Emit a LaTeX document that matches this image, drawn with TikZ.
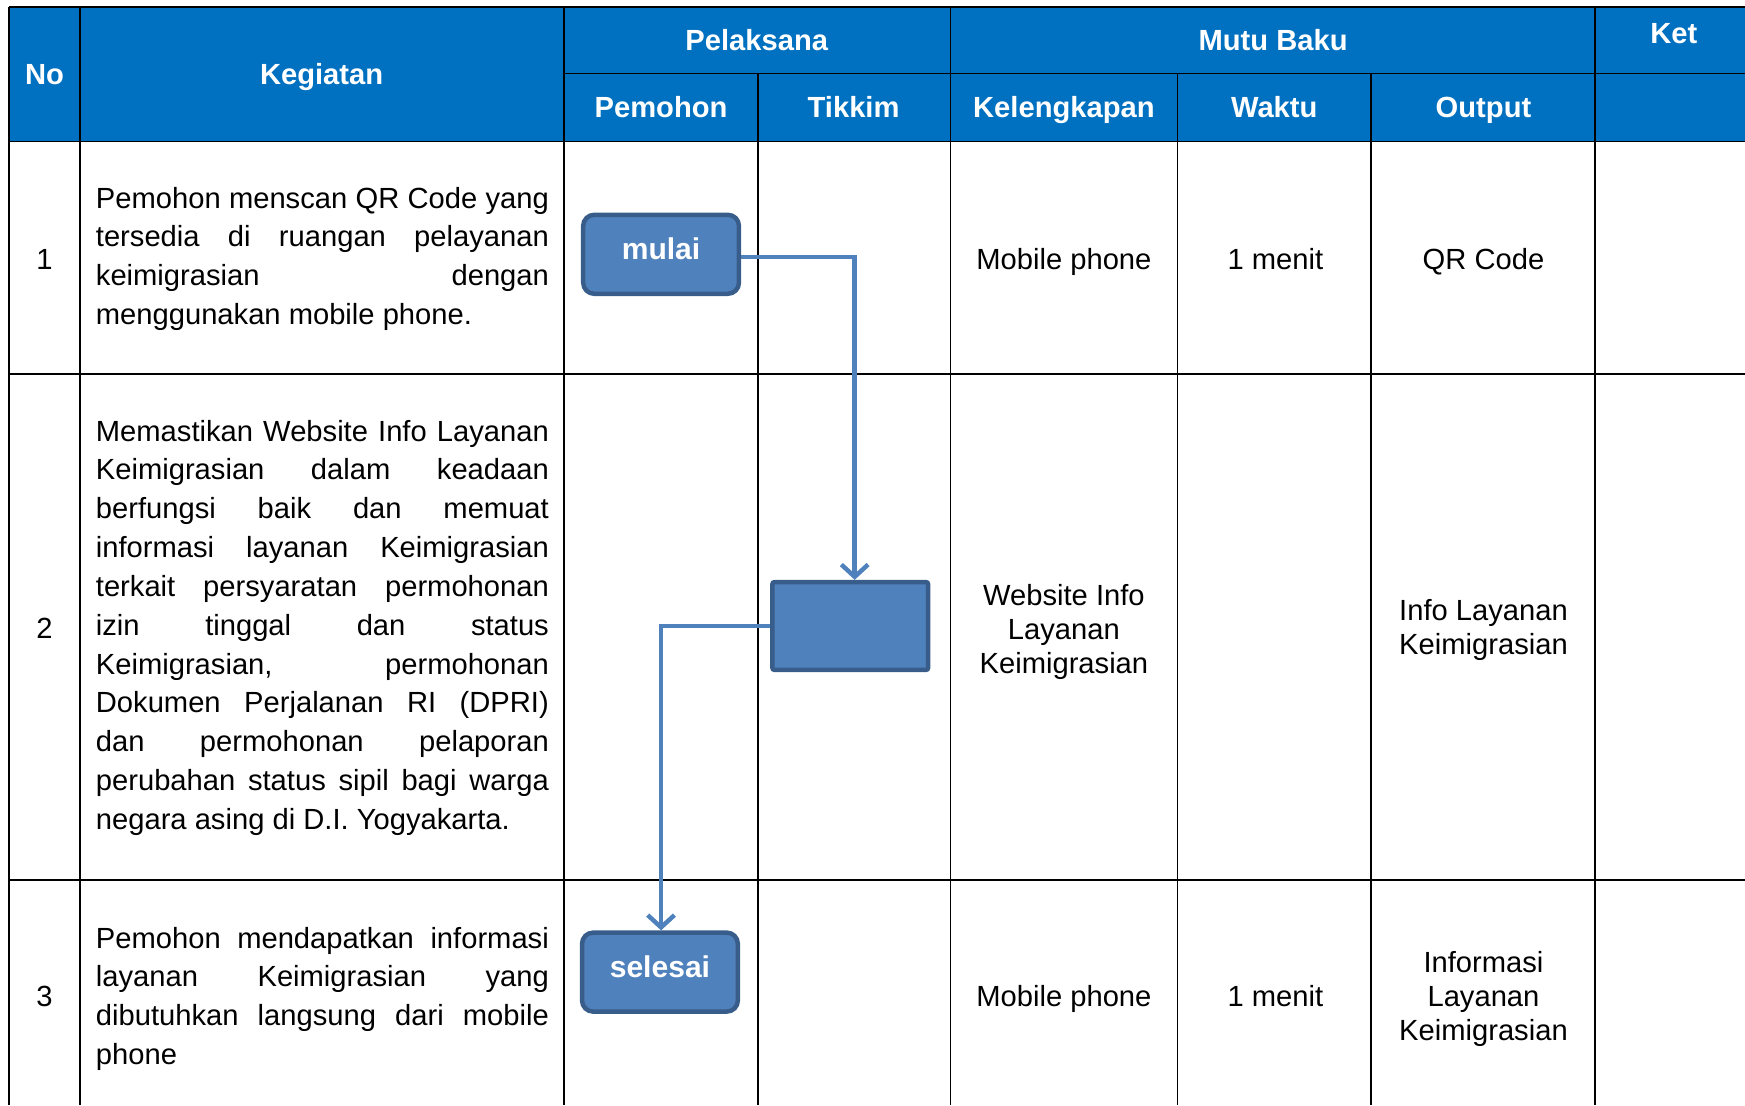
\documentclass[tikz,border=0pt]{standalone}
\usepackage{fontspec}
\setmainfont{Liberation Sans}
\usetikzlibrary{arrows.meta}
\definecolor{hdr}{HTML}{0070C0}
\definecolor{boxfill}{HTML}{4F81BD}
\definecolor{boxline}{HTML}{385D8A}
\newcommand{\jl}[1]{\makebox[407pt][s]{#1}}
\begin{document}
\begin{tikzpicture}[x=1pt,y=-1pt,
  grid/.style={line width=1.5pt, draw=black},
  hd/.style={text=white, font=\fontsize{26.2}{30}\selectfont\bfseries, inner sep=0, text height=19pt, text depth=5.5pt},
  one/.style={font=\fontsize{26.2}{30.5}\selectfont, inner sep=0, text height=19pt, text depth=5.5pt},
  bd/.style={font=\fontsize{26.2}{30.5}\selectfont, inner sep=0, align=center},
  para/.style={font=\fontsize{26.2}{34.9}\selectfont, inner sep=0, align=left, anchor=west},
  flowbox/.style={fill=boxfill, draw=boxline, line width=4pt, inner sep=0, minimum width=140pt, text=white, font=\fontsize{27}{30}\selectfont\bfseries, text depth=10pt},
  conn/.style={draw=boxfill, line width=4pt, -{Straight Barb[length=11pt,width=24pt]}}
]
\useasboundingbox (0,0) rectangle (1568,993);
% header background
\fill[hdr] (8,6) rectangle (1568,127);
% grid
\draw[grid] (8,6) -- (1568,6);
\draw[grid] (507,66) -- (1568,66);
\draw[grid] (8,127) -- (1568,127);
\draw[grid] (8,336) -- (1568,336);
\draw[grid] (8,791) -- (1568,791);
\draw[grid] (8,6) -- (8,993);
\draw[grid] (72,6) -- (72,993);
\draw[grid] (507,6) -- (507,993);
\draw[grid] (854,6) -- (854,993);
\draw[grid] (1433,6) -- (1433,993);
\draw[grid] (681,66) -- (681,993);
\draw[grid] (1058,66) -- (1058,993);
\draw[grid] (1232,66) -- (1232,993);
% header texts
\node[hd] (hNo) at (40,69) {No};
\node[hd] (hKeg) at (289,69) {Kegiatan};
\node[hd] (hPel) at (680,39) {Pelaksana};
\node[hd] (hMutu) at (1144,39) {Mutu Baku};
\node[hd] (hKet) at (1504,32) {Ket};
\node[hd] (hPem) at (594,99) {Pemohon};
\node[hd] (hTik) at (767,99) {Tikkim};
\node[hd] (hKel) at (956,99) {Kelengkapan};
\node[hd] (hWak) at (1145,99) {Waktu};
\node[hd] (hOut) at (1333,99) {Output};
% row 1
\node[one] (n1) at (40,235) {1};
\node[para] (k1) at (86,232.5) {\jl{Pemohon menscan QR Code yang}\\\jl{tersedia di ruangan pelayanan}\\\jl{keimigrasian dengan}\\menggunakan mobile phone.};
\node[one] (kel1) at (956,235) {Mobile phone};
\node[one] (w1) at (1146,235) {1 menit};
\node[one] (o1) at (1333,235) {QR Code};
% row 2
\node[one] (n2) at (40,567) {2};
\node[para] (k2) at (86,564) {\jl{Memastikan Website Info Layanan}\\\jl{Keimigrasian dalam keadaan}\\\jl{berfungsi baik dan memuat}\\\jl{informasi layanan Keimigrasian}\\\jl{terkait persyaratan permohonan}\\\jl{izin tinggal dan status}\\\jl{Keimigrasian, permohonan}\\\jl{Dokumen Perjalanan RI (DPRI)}\\\jl{dan permohonan pelaporan}\\\jl{perubahan status sipil bagi warga}\\negara asing di D.I. Yogyakarta.};
\node[bd] (kel2) at (956,567.5) {Website Info\\Layanan\\Keimigrasian};
\node[bd] (o2) at (1333,566) {Info Layanan\\Keimigrasian};
% row 3
\node[one] (n3) at (40,898) {3};
\node[para] (k3) at (86,897.5) {\jl{Pemohon mendapatkan informasi}\\\jl{layanan Keimigrasian yang}\\\jl{dibutuhkan langsung dari mobile}\\phone};
\node[one] (kel3) at (956,898) {Mobile phone};
\node[one] (w3) at (1146,898) {1 menit};
\node[bd] (o3) at (1333,897.5) {Informasi\\Layanan\\Keimigrasian};
% flow shapes
\node[flowbox, rounded corners=10pt, minimum height=71pt] (mulai) at (594,228.5) {mulai};
\node[flowbox, rounded corners=2pt, minimum height=79pt] (proc) at (764,562.5) {};
\node[flowbox, rounded corners=10pt, minimum height=71pt] (selesai) at (593,873.5) {selesai};
% connectors
\draw[conn] ([yshift=-2.5pt]mulai.east) -| ([xshift=4pt]proc.north);
\draw[conn] (proc.west) -| ([xshift=1pt]selesai.north);
\end{tikzpicture}
\end{document}
